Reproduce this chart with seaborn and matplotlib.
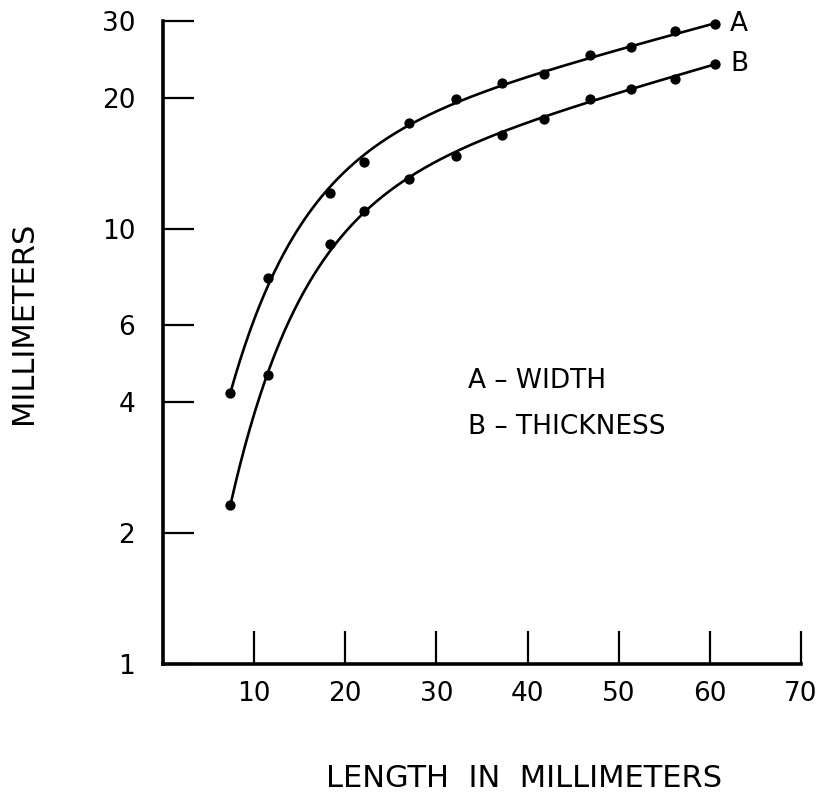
import numpy as np
import pandas as pd
import matplotlib
matplotlib.use("Agg")
import matplotlib.pyplot as plt
from matplotlib.ticker import FixedLocator, FixedFormatter, NullLocator
import seaborn as sns

# ---- data ----
length_mm = [7.4, 11.5, 18.3, 22.0, 27.0, 32.2, 37.2, 41.8, 46.8, 51.3, 56.2, 60.6]
width_A = [4.2, 7.7, 12.1, 14.2, 17.5, 19.9, 21.6, 22.7, 25.0, 26.2, 28.5, 29.6]
thickness_B = [2.32, 4.62, 9.2, 11.0, 13.0, 14.7, 16.4, 17.9, 19.9, 20.9, 22.1, 23.9]
y_ticks = [1, 2, 4, 6, 10, 20, 30]
y_tick_labels = ["1", "2", "4", "6", "10", "20", "30"]
x_ticks = [10, 20, 30, 40, 50, 60, 70]
x_tick_labels = ["10", "20", "30", "40", "50", "60", "70"]

sns.set_theme(style="white")
plt.rcParams["font.family"] = ["DejaVu Sans"]
plt.rcParams["text.color"] = "black"

fig = plt.figure(figsize=(8.34, 7.95), dpi=100)
ax = fig.add_axes([163 / 834, 131 / 795, (801 - 163) / 834, (664 - 21) / 795])

pts = pd.DataFrame({
    "length": length_mm * 2,
    "value": width_A + thickness_B,
    "series": ["A"] * len(length_mm) + ["B"] * len(length_mm),
})


def basis(x):
    x = np.asarray(x, dtype=float)
    return np.column_stack([np.ones_like(x), x, np.exp(-x / 8.0)])


# smooth fitted trend curves: least-squares fit of log10(value)
curves = []
for name, vals in (("A", width_A), ("B", thickness_B)):
    X = basis(length_mm)
    ly = np.log10(vals)
    w = np.ones(len(ly))
    w[0] = w[-1] = 4.0
    coef, *_ = np.linalg.lstsq(X * w[:, None], ly * w, rcond=None)
    xs = np.linspace(length_mm[0], length_mm[-1], 300)
    ys = 10 ** (basis(xs) @ coef)
    curves.append(pd.DataFrame({"length": xs, "value": ys, "series": name}))
curve_df = pd.concat(curves)

sns.lineplot(data=curve_df, x="length", y="value", units="series", estimator=None,
             color="black", linewidth=1.9, ax=ax, legend=False)
sns.scatterplot(data=pts, x="length", y="value", color="black", s=55,
                edgecolor="black", linewidth=0, ax=ax, legend=False, clip_on=False, zorder=5)

ax.set_yscale("log")
ax.set_xlim(0, 70)
ax.set_ylim(1, 30)
ax.yaxis.set_major_locator(FixedLocator(y_ticks))
ax.yaxis.set_major_formatter(FixedFormatter(y_tick_labels))
ax.yaxis.set_minor_locator(NullLocator())
ax.xaxis.set_major_locator(FixedLocator(x_ticks))
ax.xaxis.set_major_formatter(FixedFormatter(x_tick_labels))

for s in ("top", "right"):
    ax.spines[s].set_visible(False)
for s in ("left", "bottom"):
    ax.spines[s].set_linewidth(2.6)
    ax.spines[s].set_color("black")

ax.tick_params(axis="y", direction="in", length=22, width=1.6, pad=20,
               labelsize=19, colors="black", left=True)
ax.tick_params(axis="x", direction="in", length=24, width=1.6, pad=12,
               labelsize=19, colors="black", bottom=True)

ax.set_xlabel("LENGTH  IN  MILLIMETERS", fontsize=22, color="black")
ax.xaxis.set_label_coords(0.566, -0.155)
ax.set_ylabel("MILLIMETERS", fontsize=22, color="black")
ax.yaxis.set_label_coords(-0.196, 0.53)

ax.text(62.2, width_A[-1], "A", fontsize=19, va="center", ha="left", color="black")
ax.text(62.2, thickness_B[-1], "B", fontsize=19, va="center", ha="left", color="black")
ax.text(0.478, 0.440, "A – WIDTH", transform=ax.transAxes, fontsize=19,
        va="center", ha="left", color="black")
ax.text(0.478, 0.368, "B – THICKNESS", transform=ax.transAxes, fontsize=19,
        va="center", ha="left", color="black")

ax.grid(False)
fig.savefig("out.png", dpi=100)
